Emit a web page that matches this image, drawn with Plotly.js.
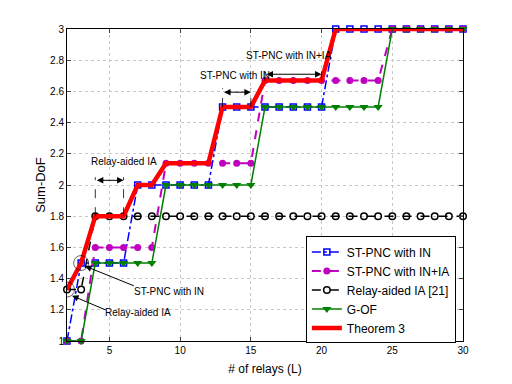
<!DOCTYPE html>
<html>
<head>
<meta charset="utf-8">
<script src="https://cdn.plot.ly/plotly-3.0.1.min.js"></script>
<style>
  html, body { margin: 0; padding: 0; background: #fff; }
  #chart { width: 512px; height: 384px; }
</style>
</head>
<body>
<div id="chart"></div>
<script>
// number of relays L
var relays = [2, 3, 4, 5, 6, 7, 8, 9, 10, 11, 12, 13, 14, 15, 16,
              17, 18, 19, 20, 21, 22, 23, 24, 25, 26, 27, 28, 29, 30];

// sum-DoF
var stpncIN = [1, 1.5, 1.5, 1.5, 1.5, 2, 2, 2, 2, 2, 2, 2.5, 2.5, 2.5, 2.5,
               2.5, 2.5, 2.5, 2.5, 3, 3, 3, 3, 3, 3, 3, 3, 3, 3];
var stpncINIA = [1, 1, 1.6, 1.6, 1.6, 1.6, 1.6, 2.14, 2.14, 2.14, 2.14, 2.14, 2.14, 2.14, 2.67,
                 2.67, 2.67, 2.67, 2.67, 2.67, 2.67, 2.67, 2.67, 3, 3, 3, 3, 3, 3];
var relayIA = [1.33, 1.33, 1.8, 1.8, 1.8, 1.8, 1.8, 1.8, 1.8, 1.8, 1.8, 1.8, 1.8, 1.8, 1.8,
               1.8, 1.8, 1.8, 1.8, 1.8, 1.8, 1.8, 1.8, 1.8, 1.8, 1.8, 1.8, 1.8, 1.8];
var gof = [1, 1, 1.5, 1.5, 1.5, 1.5, 1.5, 2, 2, 2, 2, 2, 2, 2, 2.5,
           2.5, 2.5, 2.5, 2.5, 2.5, 2.5, 2.5, 2.5, 3, 3, 3, 3, 3, 3];
var theorem3 = [1.33, 1.5, 1.8, 1.8, 1.8, 2, 2, 2.14, 2.14, 2.14, 2.14, 2.5, 2.5, 2.5, 2.67,
                2.67, 2.67, 2.67, 2.67, 3, 3, 3, 3, 3, 3, 3, 3, 3, 3];

var seriesNames = ['ST-PNC with IN', 'ST-PNC with IN+IA', 'Relay-aided IA [21]', 'G-OF', 'Theorem 3'];

var font = 'Liberation Sans, Arial, Helvetica, sans-serif';

var traces = [
  {
    x: relays, y: stpncIN, name: seriesNames[0], mode: 'lines+markers', cliponaxis: false,
    line: {color: '#0000ff', width: 1.5, dash: 'dashdot'},
    marker: {symbol: 'square-open', size: 6, color: '#0000ff', line: {width: 1.5}}
  },
  {
    x: relays, y: stpncINIA, name: seriesNames[1], mode: 'lines+markers', cliponaxis: false,
    line: {color: '#bf00bf', width: 2, dash: 'dash'},
    marker: {symbol: 'circle', size: 7, color: '#bf00bf'}
  },
  {
    x: relays, y: relayIA, name: seriesNames[2], mode: 'lines+markers', cliponaxis: false,
    line: {color: '#000000', width: 1.5, dash: 'dash'},
    marker: {symbol: 'circle-open', size: 6.5, color: '#000000', line: {width: 1.5}}
  },
  {
    x: relays, y: gof, name: seriesNames[3], mode: 'lines+markers', cliponaxis: false,
    line: {color: '#008000', width: 1.5},
    marker: {symbol: 'triangle-down', size: 8, color: '#008000'}
  },
  {
    x: relays, y: theorem3, name: seriesNames[4], mode: 'lines', cliponaxis: false,
    line: {color: '#ff0000', width: 4.5}
  }
];

// helpers for the little MATLAB style annotations
function txt(x, y, s) {
  return {x: x, y: y, xref: 'x', yref: 'y', text: s, showarrow: false,
          font: {family: font, size: 10, color: '#000'}};
}
function arrow(x, y, ax, ay, both) {
  return {x: x, y: y, ax: ax, ay: ay, xref: 'x', yref: 'y', axref: 'x', ayref: 'y',
          text: '', showarrow: true, arrowhead: 2, arrowsize: 1.3, arrowwidth: 1,
          arrowcolor: '#000', arrowside: both ? 'end+start' : 'end', standoff: 0, startstandoff: 0};
}
function vdash(x, y0, y1) {
  return {type: 'line', xref: 'x', yref: 'y', x0: x, x1: x, y0: y0, y1: y1,
          line: {color: '#000', width: 0.8, dash: 'dash'}};
}
function ring(x, y) {
  return {type: 'circle', xref: 'x', yref: 'y', xsizemode: 'pixel', ysizemode: 'pixel',
          xanchor: x, yanchor: y, x0: -7.5, x1: 7.5, y0: -7.5, y1: 7.5,
          line: {color: '#000', width: 0.6}};
}

var layout = {
  width: 512, height: 384,
  margin: {l: 67, r: 49, t: 29, b: 43},
  paper_bgcolor: '#fff', plot_bgcolor: '#fff',
  font: {family: font, size: 10, color: '#000'},
  showlegend: true,
  xaxis: {
    range: [2, 30], tick0: 0, dtick: 5, ticks: 'inside', ticklen: 4,
    showline: true, linecolor: '#000', linewidth: 1, mirror: 'ticks',
    showgrid: true, gridcolor: '#c8c8c8', griddash: 'dot', zeroline: false,
    tickfont: {family: font, size: 10},
    title: {text: '# of relays (L)', font: {family: font, size: 12}, standoff: 9}
  },
  yaxis: {
    range: [1, 3], tick0: 1, dtick: 0.2, ticks: 'inside', ticklen: 4,
    showline: true, linecolor: '#000', linewidth: 1, mirror: 'ticks',
    showgrid: true, gridcolor: '#c8c8c8', griddash: 'dot', zeroline: false,
    tickfont: {family: font, size: 10},
    title: {text: 'Sum-DoF', font: {family: font, size: 13}, standoff: 1}
  },
  legend: {
    x: 0.982, y: 0.335, xanchor: 'right', yanchor: 'top',
    bgcolor: '#fff', bordercolor: '#000', borderwidth: 1,
    font: {family: font, size: 12}, itemwidth: 30, tracegroupgap: 0
  },
  annotations: [
    txt(6, 2.15, 'Relay-aided IA'),
    arrow(6, 2.03, 4, 2.03, true),
    txt(13.9, 2.705, 'ST-PNC with IN'),
    arrow(15, 2.595, 13, 2.595, true),
    txt(17.7, 2.83, 'ST-PNC with IN+IA'),
    arrow(20, 2.71, 16, 2.71, true),
    txt(9.2, 1.32, 'ST-PNC with IN'),
    arrow(3.28, 1.48, 6.83, 1.35, false),
    txt(7.0, 1.18, 'Relay-aided IA'),
    arrow(2.36, 1.29, 4.84, 1.195, false)
  ],
  shapes: [
    vdash(4, 1.8, 2.05), vdash(6, 1.8, 2.05),
    vdash(13, 2.5, 2.62), vdash(15, 2.5, 2.62),
    vdash(16, 2.67, 2.76), vdash(20, 2.67, 2.76),
    ring(2, 1.33), ring(3, 1.5)
  ]
};

Plotly.newPlot('chart', traces, layout, {staticPlot: true});
</script>
</body>
</html>
